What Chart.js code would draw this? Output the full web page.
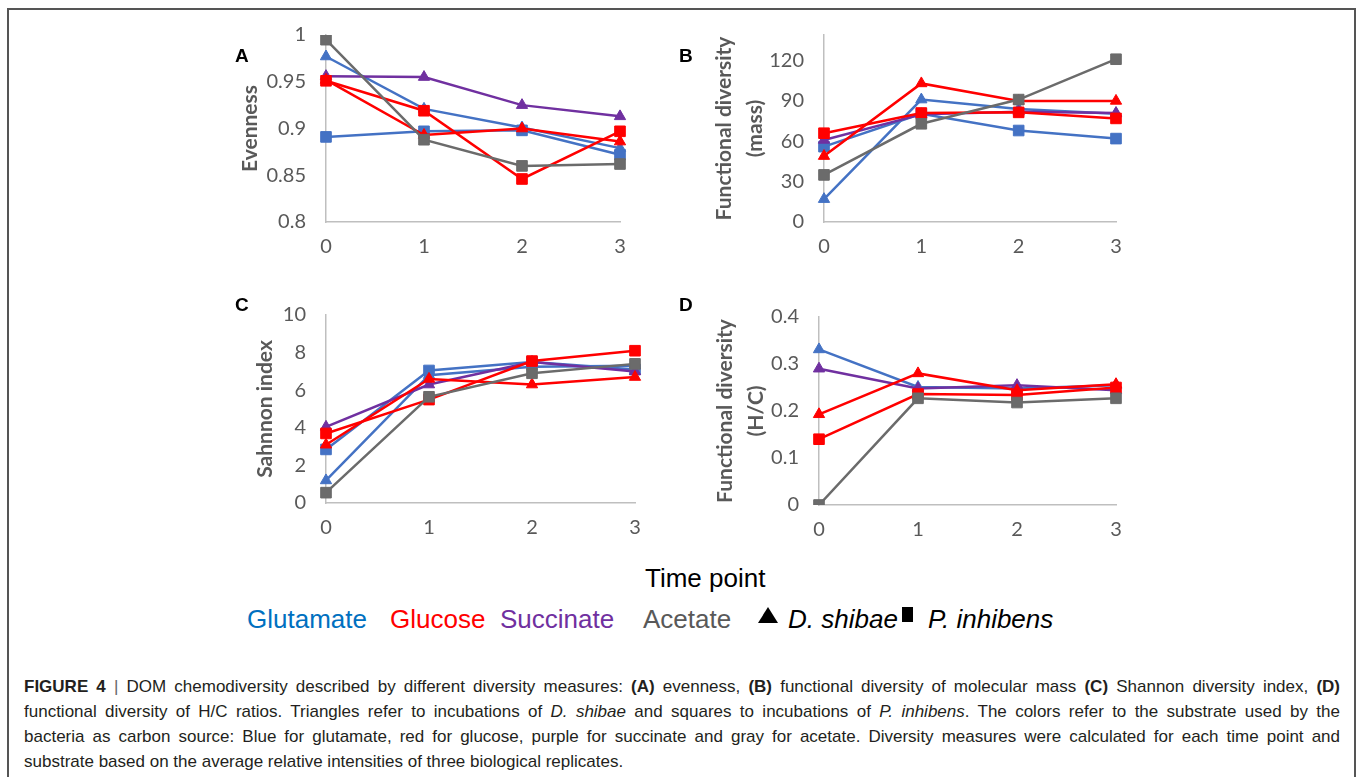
<!DOCTYPE html>
<html>
<head>
<meta charset="utf-8">
<script src="https://cdn.jsdelivr.net/npm/chart.js@4.4.0/dist/chart.umd.min.js"></script>
<style>
body { margin: 0; width: 1360px; height: 777px; overflow: hidden; background: #fff; position: relative; font-family: "Liberation Sans", Arial, sans-serif; }
.frame { position: absolute; left: 7px; top: 8px; width: 1345px; height: 820px; border: 2px solid #555; }
.panel { position: absolute; }
.panel canvas { display: block; }
.letter { position: absolute; font: bold 19px "Liberation Sans", Arial, sans-serif; color: #000; }
.big { position: absolute; font-size: 26px; line-height: 26px; white-space: nowrap; }
.caption { position: absolute; left: 24px; top: 674px; width: 1316px; font-size: 17px; line-height: 25px; color: #231f20; }
.caption div { text-align: justify; text-align-last: justify; white-space: nowrap; }
.caption div.last { text-align-last: left; }
.bar { font-weight: normal; color: #666; }
</style>
</head>
<body>
<div class="frame"></div>

<div class="panel" id="wrapA"><canvas id="chartA"></canvas></div>
<div class="panel" id="wrapB"><canvas id="chartB"></canvas></div>
<div class="panel" id="wrapC"><canvas id="chartC"></canvas></div>
<div class="panel" id="wrapD"><canvas id="chartD"></canvas></div>

<div class="letter" style="left:235px;top:45px">A</div>
<div class="letter" style="left:679px;top:45px">B</div>
<div class="letter" style="left:235px;top:294px">C</div>
<div class="letter" style="left:679px;top:294px">D</div>

<div class="big" style="left:645px;top:565px;color:#000">Time point</div>
<div class="big" style="left:247px;top:606px;color:#0070c0">Glutamate</div>
<div class="big" style="left:390px;top:606px;color:#ff0000">Glucose</div>
<div class="big" style="left:500px;top:606px;color:#7030a0">Succinate</div>
<div class="big" style="left:643px;top:606px;color:#595959">Acetate</div>
<div style="position:absolute;left:758px;top:607px;width:0;height:0;border-left:10px solid transparent;border-right:10px solid transparent;border-bottom:16px solid #000"></div>
<div class="big" style="left:788px;top:606px;color:#000;font-style:italic">D. shibae</div>
<div style="position:absolute;left:902px;top:607px;width:11px;height:15px;background:#000"></div>
<div class="big" style="left:928px;top:606px;color:#000;font-style:italic">P. inhibens</div>

<div class="caption">
<div><b>FIGURE 4</b> <span class="bar">|</span> DOM chemodiversity described by different diversity measures: <b>(A)</b> evenness, <b>(B)</b> functional diversity of molecular mass <b>(C)</b> Shannon diversity index, <b>(D)</b></div>
<div>functional diversity of H/C ratios. Triangles refer to incubations of <i>D. shibae</i> and squares to incubations of <i>P. inhibens</i>. The colors refer to the substrate used by the</div>
<div>bacteria as carbon source: Blue for glutamate, red for glucose, purple for succinate and gray for acetate. Diversity measures were calculated for each time point and</div>
<div class="last">substrate based on the average relative intensities of three biological replicates.</div>
</div>

<script>
const timePoints = ['0', '1', '2', '3'];

// tick labels of each panel
const ticksA = [0.8, 0.85, 0.9, 0.95, 1];
const ticksB = [0, 30, 60, 90, 120];
const ticksC = [0, 2, 4, 6, 8, 10];
const ticksD = [0, 0.1, 0.2, 0.3, 0.4];

// A - evenness
const evenGluDs = [0.977, 0.921, 0.901, 0.879];
const evenGluPi = [0.891, 0.897, 0.898, 0.872];
const evenSucDs = [0.956, 0.955, 0.925, 0.913];
const evenGlcDs = [0.952, 0.893, 0.900, 0.886];
const evenGlcPi = [0.951, 0.919, 0.846, 0.897];
const evenAcePi = [0.995, 0.888, 0.860, 0.862];

// B - functional diversity (mass)
const massGluDs = [17, 91, 84, 80.5];
const massGluPi = [56, 80.5, 68, 62];
const massSucDs = [61, 80, 82, 81];
const massGlcDs = [49, 103, 90, 90];
const massGlcPi = [66, 81, 81.5, 77];
const massAcePi = [35, 73, 91, 121];

// C - shannon index
const shanGluDs = [1.2, 6.8, 7.25, 7.3];
const shanGluPi = [2.85, 7.05, 7.5, 7.1];
const shanSucDs = [4.05, 6.3, 7.5, 7.0];
const shanGlcDs = [3.1, 6.6, 6.3, 6.7];
const shanGlcPi = [3.7, 5.5, 7.55, 8.1];
const shanAcePi = [0.55, 5.65, 6.9, 7.4];

// D - functional diversity (H/C)
const hcGluDs = [0.331, 0.251, 0.248, 0.255];
const hcGluPi = [null, null, null, null];
const hcSucDs = [0.290, 0.248, 0.255, 0.244];
const hcGlcDs = [0.193, 0.280, 0.244, 0.257];
const hcGlcPi = [0.140, 0.236, 0.234, 0.250];
const hcAcePi = [0.0, 0.227, 0.218, 0.227];

// look of each series (order = which one sits on top)
const looks = [
  { color: '#4472c4', shape: 'triangle', order: 5 },
  { color: '#4472c4', shape: 'rect', order: 4 },
  { color: '#7030a0', shape: 'triangle', order: 3 },
  { color: '#ff0000', shape: 'triangle', order: 2 },
  { color: '#ff0000', shape: 'rect', order: 1 },
  { color: '#6b6b6b', shape: 'rect', order: 0 }
];

const axisGray = '#bfbfbf';
const textGray = '#595959';
const tickSize = 20;
const titleSize = 21;

function makePanel(id, area, boxL, boxB, yMin, yMax, yTicks, yTitle, titleX, titleLH, series) {
  // canvas box around the plot area, roomy enough for chart.js' own label padding
  const box = { l: boxL, t: area.t - 36, w: area.r + 26 - boxL, h: boxB - (area.t - 36) };
  const cv = document.getElementById(id);
  const wrap = cv.parentNode;
  wrap.style.left = box.l + 'px';
  wrap.style.top = box.t + 'px';
  cv.width = box.w;
  cv.height = box.h;
  const lh = titleSize * titleLH;

  new Chart(cv, {
    type: 'line',
    data: {
      labels: timePoints,
      datasets: series.map((vals, i) => ({
        data: vals,
        borderColor: looks[i].color,
        backgroundColor: looks[i].color,
        pointBackgroundColor: looks[i].color,
        pointBorderColor: looks[i].color,
        pointBorderWidth: 1,
        pointStyle: looks[i].shape,
        pointRadius: looks[i].shape === 'rect' ? 7.5 : 6.5,
        borderWidth: 2.5,
        tension: 0,
        order: looks[i].order
      }))
    },
    options: {
      responsive: false,
      animation: false,
      layout: { padding: { top: area.t - box.t, right: box.l + box.w - area.r, left: 0, bottom: 0 } },
      plugins: { legend: { display: false }, tooltip: { enabled: false } },
      scales: {
        x: {
          offset: false,
          grid: { display: false, drawTicks: false },
          border: { color: axisGray, width: 1.5 },
          ticks: { color: textGray, font: { family: 'Lato', size: tickSize }, padding: 13, maxRotation: 0 },
          afterFit: s => { s.height = box.t + box.h - area.b; }
        },
        y: {
          min: yMin,
          max: yMax,
          grid: { display: false, drawTicks: false },
          border: { color: axisGray, width: 1.5 },
          ticks: {
            color: textGray,
            font: { family: 'Lato', size: tickSize },
            padding: 20,
            callback: v => String(+(+v).toFixed(4))
          },
          afterBuildTicks: s => { s.ticks = yTicks.map(v => ({ value: v })); },
          afterFit: s => { s.width = area.l - box.l; },
          title: {
            display: true,
            text: yTitle,
            color: textGray,
            font: { family: 'Lato', size: titleSize, weight: 'bold', lineHeight: titleLH },
            padding: { top: titleX - box.l - lh / 2, bottom: 0 }
          }
        }
      }
    }
  });
}

makePanel('chartA', { l: 326, r: 620, t: 35, b: 222 }, 230, 272,
  0.8, 1, ticksA, 'Evenness', 250, 1.2,
  [evenGluDs, evenGluPi, evenSucDs, evenGlcDs, evenGlcPi, evenAcePi]);

makePanel('chartB', { l: 824, r: 1116, t: 35, b: 222 }, 670, 272,
  0, 139, ticksB, ['Functional diversity', '(mass)'], 724, 1.48,
  [massGluDs, massGluPi, massSucDs, massGlcDs, massGlcPi, massAcePi]);

makePanel('chartC', { l: 326, r: 635, t: 315, b: 503 }, 230, 552,
  0, 10, ticksC, 'Sahnnon index', 265, 1.2,
  [shanGluDs, shanGluPi, shanSucDs, shanGlcDs, shanGlcPi, shanAcePi]);

makePanel('chartD', { l: 819, r: 1116, t: 317, b: 505 }, 670, 552,
  0, 0.4, ticksD, ['Functional diversity', '(H/C)'], 725, 1.48,
  [hcGluDs, hcGluPi, hcSucDs, hcGlcDs, hcGlcPi, hcAcePi]);
</script>
</body>
</html>
